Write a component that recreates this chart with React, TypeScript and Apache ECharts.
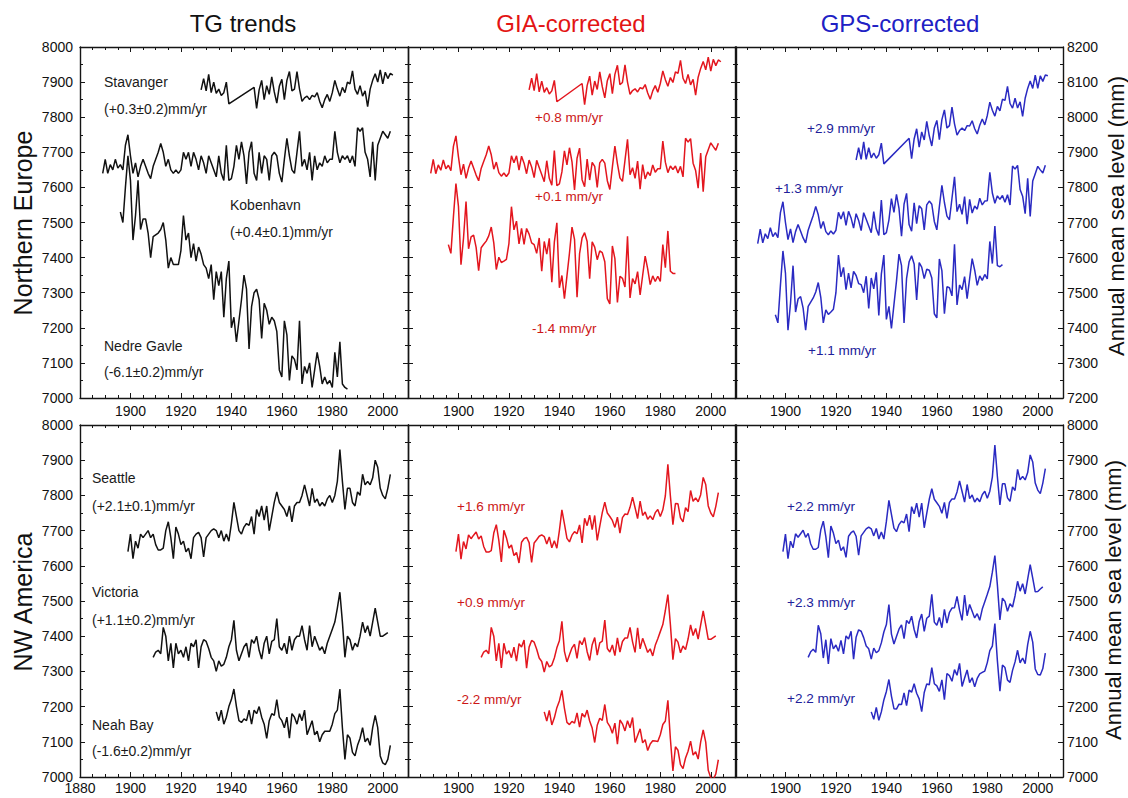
import React, { useEffect, useRef } from "react";
import * as echarts from "echarts";

// ---------- axis / text data ----------
const YEAR_MIN = 1880;
const YEAR_MAX = 2010;
const columnTitles = ["TG trends", "GIA-corrected", "GPS-corrected"];
const rowTitles = ["Northern Europe", "NW America"];
const rightAxisTitle = "Annual mean sea level (mm)";
const yRangeTop = [[7000, 8000], [7000, 8000], [7200, 8200]];
const yRangeBottom = [[7000, 8000], [7000, 8000], [7000, 8000]];

// ---------- Northern Europe ----------
const stavangerYears = [
  1928, 1929, 1930, 1931, 1932, 1933, 1934, 1935, 1936, 1937, 1938, 1939,
  1949, 1950, 1951, 1952, 1953, 1954, 1955, 1956, 1957, 1958, 1959, 1960,
  1961, 1962, 1963, 1964, 1965, 1966, 1967, 1968, 1969, 1970, 1971, 1972,
  1973, 1974, 1975, 1976, 1977, 1978, 1979, 1980, 1981, 1982, 1983, 1984,
  1985, 1986, 1987, 1988, 1989, 1990, 1991, 1992, 1993, 1994, 1995, 1996,
  1997, 1998, 1999, 2000, 2001, 2002, 2003, 2004,
];
const stavangerTG = [
  7878, 7910, 7875, 7922, 7870, 7900, 7868, 7880, 7862, 7870, 7900, 7838,
  7885, 7825, 7878, 7905, 7850, 7890, 7865, 7915, 7872, 7840, 7888, 7908,
  7850, 7905, 7930, 7875, 7880, 7930, 7880, 7845, 7855, 7860, 7850, 7862,
  7858, 7870, 7845, 7827, 7850, 7865, 7845, 7870, 7905, 7880, 7860, 7885,
  7870, 7900, 7895, 7932, 7880, 7865, 7890, 7860, 7875, 7830, 7880, 7905,
  7924, 7900, 7935, 7895, 7928, 7910, 7925, 7920,
];
const stavangerGIA = [
  7878, 7911, 7876, 7924, 7872, 7903, 7871, 7884, 7866, 7875, 7905, 7844,
  7896, 7836, 7890, 7917, 7863, 7903, 7879, 7929, 7887, 7855, 7904, 7924,
  7867, 7922, 7948, 7893, 7899, 7949, 7900, 7865, 7876, 7881, 7872, 7884,
  7881, 7893, 7869, 7851, 7875, 7890, 7871, 7896, 7932, 7907, 7888, 7913,
  7899, 7929, 7925, 7962, 7911, 7896, 7922, 7892, 7908, 7863, 7914, 7939,
  7959, 7935, 7971, 7931, 7965, 7947, 7963, 7958,
];
const stavangerGPS = [
  7878, 7913, 7880, 7930, 7880, 7913, 7884, 7898, 7883, 7893, 7926, 7867,
  7940, 7882, 7938, 7967, 7915, 7958, 7935, 7988, 7947, 7918, 7969, 7991,
  7936, 7993, 8021, 7969, 7976, 8029, 7981, 7949, 7962, 7969, 7962, 7976,
  7975, 7990, 7967, 7952, 7977, 7995, 7978, 8005, 8043, 8020, 8003, 8031,
  8018, 8051, 8048, 8088, 8039, 8026, 8054, 8026, 8044, 8002, 8054, 8082,
  8103, 8082, 8120, 8082, 8118, 8102, 8120, 8118,
];

const kobenhavnFirstYear = 1889;
const kobenhavnTG = [
  7640,
  7680, 7640, 7665, 7650, 7680, 7655, 7665, 7650, 7720, 7750,
  7690, 7640, 7670, 7630, 7660, 7680, 7660, 7640, 7625, 7660,
  7680, 7700, 7725, 7700, 7660, 7680, 7650, 7640, 7650, 7640,
  7650, 7700, 7680, 7700, 7660, 7700, 7680, 7650, 7690, 7670,
  7640, 7690, 7670, 7650, 7630, 7690, 7640, 7620, 7720, 7620,
  7625, 7660, 7720, 7680, 7730, 7690, 7610, 7700, 7730, 7640,
  7620, 7700, 7640, 7690, 7680, 7620, 7690, 7700, 7690, 7640,
  7615, 7680, 7740, 7690, 7650, 7640, 7700, 7760, 7660, 7680,
  7650, 7700, 7620, 7690, 7650, 7670, 7660, 7690, 7670, 7680,
  7680, 7760, 7700, 7670, 7690, 7680, 7690, 7670, 7690, 7660,
  7770, 7760, 7770, 7700, 7680, 7630, 7730, 7620, 7720, 7740,
  7760, 7750, 7740, 7760,
];
const kobenhavnGIA = [
  7640,
  7680, 7639, 7664, 7649, 7678, 7653, 7663, 7648, 7717, 7747,
  7687, 7636, 7666, 7626, 7655, 7675, 7655, 7635, 7619, 7654,
  7674, 7693, 7718, 7693, 7652, 7672, 7642, 7632, 7641, 7631,
  7641, 7690, 7670, 7690, 7649, 7689, 7669, 7639, 7678, 7658,
  7628, 7677, 7657, 7637, 7616, 7676, 7626, 7606, 7705, 7605,
  7610, 7644, 7704, 7664, 7713, 7673, 7593, 7683, 7712, 7622,
  7602, 7681, 7621, 7671, 7660, 7600, 7670, 7680, 7669, 7619,
  7594, 7658, 7718, 7668, 7627, 7617, 7677, 7737, 7636, 7656,
  7626, 7675, 7595, 7665, 7624, 7644, 7634, 7664, 7643, 7653,
  7653, 7732, 7672, 7642, 7661, 7651, 7661, 7641, 7660, 7630,
  7740, 7729, 7739, 7669, 7648, 7598, 7698, 7588, 7687, 7707,
  7727, 7716, 7706, 7726,
];
const kobenhavnGPS = [
  7640,
  7681, 7642, 7668, 7654, 7685, 7660, 7671, 7657, 7728, 7759,
  7700, 7651, 7682, 7643, 7674, 7694, 7675, 7656, 7642, 7678,
  7699, 7720, 7746, 7722, 7683, 7703, 7674, 7665, 7676, 7667,
  7678, 7729, 7710, 7731, 7692, 7732, 7713, 7684, 7725, 7706,
  7677, 7728, 7709, 7690, 7671, 7731, 7682, 7663, 7764, 7665,
  7671, 7707, 7768, 7729, 7780, 7740, 7661, 7752, 7783, 7694,
  7675, 7756, 7697, 7748, 7739, 7679, 7750, 7761, 7752, 7703,
  7679, 7745, 7806, 7757, 7718, 7708, 7769, 7830, 7731, 7752,
  7723, 7774, 7695, 7766, 7727, 7747, 7738, 7769, 7750, 7761,
  7762, 7843, 7784, 7755, 7776, 7766, 7777, 7758, 7779, 7750,
  7861, 7852, 7863, 7794, 7775, 7725, 7826, 7717, 7818, 7839,
  7860, 7850, 7841, 7863,
];

const nedreGavleFirstYear = 1896;
const nedreGavleTG = [
  7530, 7500, 7600, 7690,
  7620, 7450, 7520, 7620, 7480, 7510, 7510, 7470, 7400, 7460,
  7465, 7470, 7480, 7500, 7450, 7370, 7400, 7380, 7380, 7380,
  7420, 7520, 7450, 7470, 7400, 7440, 7390, 7430, 7410, 7380,
  7370, 7340, 7380, 7280, 7360, 7320, 7360, 7230, 7340, 7390,
  7200, 7230, 7160, 7220, 7280, 7350, 7310, 7140, 7260, 7300,
  7310, 7280, 7170, 7270, 7250, 7210, 7230, 7220, 7190, 7080,
  7060, 7220, 7180, 7050, 7120, 7110, 7080, 7220, 7040, 7090,
  7070, 7100, 7030, 7080, 7130, 7090, 7040, 7060, 7040, 7050,
  7030, 7130, 7060, 7160, 7040, 7030, 7025,
];
const nedreGavleGIA = [
  7437, 7412, 7516, 7611,
  7546, 7380, 7455, 7560, 7425, 7459, 7464, 7429, 7363, 7428,
  7438, 7447, 7462, 7487, 7442, 7366, 7401, 7386, 7390, 7395,
  7440, 7545, 7479, 7504, 7439, 7483, 7438, 7483, 7467, 7442,
  7437, 7412, 7456, 7361, 7446, 7410, 7455, 7330, 7444, 7499,
  7314, 7349, 7283, 7348, 7413, 7487, 7452, 7287, 7411, 7456,
  7471, 7446, 7340, 7445, 7430, 7394, 7419, 7414, 7388, 7283,
  7268, 7433, 7397, 7272, 7347, 7341, 7316, 7461, 7285, 7340,
  7325, 7360, 7294, 7349, 7404, 7368, 7323, 7348, 7332, 7347,
  7332, 7437, 7371, 7476, 7361, 7355, 7355,
];
const nedreGavleGPS = [
  7437, 7414, 7521, 7619,
  7556, 7393, 7470, 7577, 7445, 7482, 7489, 7456, 7393, 7461,
  7473, 7485, 7502, 7529, 7487, 7414, 7451, 7438, 7445, 7453,
  7500, 7607, 7545, 7572, 7509, 7556, 7514, 7561, 7549, 7526,
  7523, 7500, 7547, 7455, 7542, 7511, 7558, 7435, 7553, 7607,
  7424, 7461, 7398, 7466, 7533, 7610, 7577, 7414, 7541, 7588,
  7605, 7582, 7479, 7586, 7573, 7540, 7567, 7564, 7542, 7440,
  7428, 7596, 7563, 7440, 7517, 7514, 7491, 7638, 7465, 7522,
  7509, 7546, 7483, 7540, 7597, 7564, 7521, 7548, 7535, 7552,
  7539, 7646, 7583, 7690, 7577, 7574, 7580,
];

// ---------- NW America ----------
const seattleFirstYear = 1899;
const seattleTG = [
  7640,
  7690, 7620, 7670, 7650, 7690, 7680, 7690, 7700, 7680, 7690,
  7660, 7645, 7645, 7650, 7700, 7725, 7680, 7620, 7710, 7690,
  7660, 7670, 7640, 7650, 7620, 7680, 7690, 7695, 7680, 7625,
  7680, 7690, 7700, 7705, 7700, 7680, 7700, 7670, 7690, 7670,
  7720, 7780, 7740, 7700, 7690, 7710, 7720, 7715, 7740, 7690,
  7760, 7740, 7770, 7730, 7770, 7700, 7740, 7780, 7810, 7780,
  7770, 7760, 7740, 7770, 7725, 7770, 7780, 7780, 7800, 7830,
  7800, 7770, 7820, 7780, 7790, 7770, 7780, 7770, 7790, 7800,
  7780, 7800, 7840, 7930, 7840, 7760, 7820, 7820, 7780, 7770,
  7810, 7800, 7860, 7830, 7840, 7830, 7850, 7900, 7880, 7820,
  7800, 7790, 7820, 7860,
];
const seattleGIA = [
  7640,
  7690, 7619, 7669, 7648, 7688, 7677, 7687, 7696, 7676, 7685,
  7655, 7639, 7639, 7643, 7693, 7717, 7672, 7611, 7701, 7680,
  7650, 7659, 7629, 7638, 7608, 7667, 7677, 7681, 7666, 7610,
  7665, 7674, 7684, 7688, 7683, 7662, 7682, 7651, 7671, 7650,
  7700, 7759, 7719, 7678, 7668, 7687, 7697, 7691, 7716, 7665,
  7735, 7714, 7744, 7703, 7743, 7672, 7712, 7751, 7781, 7750,
  7740, 7729, 7709, 7738, 7693, 7737, 7747, 7746, 7766, 7795,
  7765, 7734, 7784, 7743, 7753, 7732, 7742, 7731, 7751, 7760,
  7740, 7759, 7799, 7888, 7798, 7717, 7777, 7776, 7736, 7725,
  7765, 7754, 7814, 7783, 7793, 7782, 7802, 7851, 7831, 7770,
  7750, 7739, 7769, 7808,
];
const seattleGPS = [
  7640,
  7690, 7620, 7670, 7651, 7691, 7681, 7691, 7701, 7681, 7692,
  7662, 7647, 7647, 7652, 7702, 7727, 7683, 7623, 7713, 7693,
  7663, 7673, 7643, 7654, 7624, 7684, 7694, 7699, 7684, 7630,
  7685, 7695, 7705, 7710, 7705, 7685, 7706, 7676, 7696, 7676,
  7726, 7786, 7746, 7707, 7697, 7717, 7727, 7722, 7747, 7697,
  7768, 7748, 7778, 7738, 7778, 7708, 7749, 7789, 7819, 7789,
  7779, 7769, 7749, 7780, 7735, 7780, 7790, 7790, 7810, 7841,
  7811, 7781, 7831, 7791, 7801, 7781, 7792, 7782, 7802, 7812,
  7792, 7812, 7852, 7943, 7853, 7773, 7833, 7833, 7793, 7783,
  7824, 7814, 7874, 7844, 7854, 7844, 7865, 7915, 7895, 7835,
  7815, 7805, 7835, 7876,
];

const victoriaFirstYear = 1909;
const victoriaTG = [
  7340,
  7355, 7360, 7350, 7425, 7400, 7330, 7380, 7310, 7380, 7350,
  7360, 7340, 7370, 7330, 7380, 7370, 7390, 7310, 7370, 7390,
  7385, 7365, 7340, 7330, 7300, 7330, 7315, 7320, 7340, 7370,
  7390, 7445, 7360, 7330, 7350, 7370, 7380, 7340, 7390, 7380,
  7400, 7360, 7335, 7380, 7400, 7350, 7385, 7390, 7450, 7370,
  7360, 7380, 7350, 7400, 7360, 7390, 7400, 7400, 7430, 7390,
  7360, 7430, 7370, 7400, 7380, 7360, 7370, 7350, 7380, 7400,
  7420, 7440, 7480, 7525, 7440, 7340, 7400, 7390, 7360, 7380,
  7370, 7400, 7440, 7410, 7430, 7400, 7440, 7480, 7440, 7400,
  7400, 7405, 7410,
];
const victoriaGIA = [
  7340,
  7355, 7360, 7350, 7425, 7400, 7330, 7380, 7310, 7380, 7349,
  7359, 7339, 7369, 7329, 7379, 7369, 7389, 7309, 7369, 7388,
  7383, 7363, 7338, 7328, 7298, 7328, 7313, 7318, 7338, 7367,
  7387, 7442, 7357, 7327, 7347, 7367, 7377, 7337, 7387, 7376,
  7396, 7356, 7331, 7376, 7396, 7346, 7381, 7386, 7446, 7365,
  7355, 7375, 7345, 7395, 7355, 7385, 7395, 7395, 7425, 7384,
  7354, 7424, 7364, 7394, 7374, 7354, 7364, 7344, 7374, 7393,
  7413, 7433, 7473, 7518, 7433, 7333, 7393, 7383, 7353, 7372,
  7362, 7392, 7432, 7402, 7422, 7392, 7432, 7472, 7432, 7391,
  7391, 7396, 7401,
];
const victoriaGPS = [
  7340,
  7356, 7363, 7354, 7431, 7407, 7338, 7390, 7321, 7393, 7364,
  7375, 7357, 7388, 7350, 7401, 7392, 7414, 7335, 7397, 7418,
  7414, 7396, 7372, 7364, 7335, 7366, 7353, 7359, 7381, 7412,
  7433, 7490, 7406, 7378, 7399, 7420, 7432, 7393, 7445, 7436,
  7457, 7419, 7395, 7442, 7463, 7414, 7451, 7457, 7519, 7440,
  7431, 7453, 7424, 7476, 7437, 7468, 7480, 7481, 7513, 7474,
  7445, 7517, 7458, 7490, 7471, 7452, 7464, 7445, 7477, 7498,
  7519, 7541, 7582, 7629, 7545, 7446, 7508, 7499, 7471, 7492,
  7483, 7515, 7556, 7528, 7549, 7520, 7562, 7603, 7565, 7526,
  7527, 7534, 7540,
];

const neahBayFirstYear = 1934;
const neahBayTG = [
  7185, 7160, 7190, 7150, 7170, 7200,
  7220, 7250, 7200, 7160, 7155, 7165, 7160, 7190, 7150, 7190,
  7180, 7200, 7170, 7150, 7110, 7160, 7180, 7175, 7220, 7170,
  7160, 7140, 7170, 7110, 7180, 7170, 7150, 7180, 7160, 7190,
  7120, 7140, 7160, 7120, 7130, 7100, 7120, 7130, 7130, 7130,
  7150, 7180, 7190, 7250, 7140, 7050, 7120, 7110, 7070, 7060,
  7090, 7110, 7140, 7100, 7110, 7090, 7140, 7175, 7140, 7060,
  7040, 7035, 7050, 7090,
];
const neahBayGIA = [
  7185, 7159, 7189, 7148, 7168, 7197,
  7216, 7246, 7195, 7155, 7149, 7158, 7153, 7182, 7142, 7181,
  7170, 7190, 7159, 7139, 7098, 7147, 7167, 7161, 7206, 7155,
  7144, 7124, 7153, 7093, 7162, 7151, 7131, 7160, 7140, 7169,
  7098, 7118, 7137, 7097, 7106, 7075, 7094, 7103, 7102, 7101,
  7120, 7149, 7159, 7218, 7108, 7017, 7086, 7076, 7035, 7024,
  7054, 7073, 7102, 7062, 7072, 7051, 7100, 7134, 7099, 7019,
  6998, 6993, 7009, 7049,
];
const neahBayGPS = [
  7185, 7164, 7198, 7161, 7185, 7219,
  7243, 7277, 7230, 7194, 7193, 7207, 7206, 7239, 7203, 7247,
  7241, 7265, 7238, 7222, 7186, 7240, 7264, 7262, 7311, 7265,
  7259, 7243, 7276, 7220, 7294, 7288, 7272, 7305, 7289, 7323,
  7257, 7281, 7304, 7268, 7282, 7256, 7280, 7293, 7297, 7301,
  7325, 7359, 7372, 7436, 7330, 7244, 7318, 7311, 7275, 7269,
  7303, 7327, 7360, 7324, 7338, 7322, 7376, 7414, 7383, 7307,
  7291, 7290, 7308, 7352,
];

// ---------- helpers ----------
const consecutive = (first: number, vals: number[]) => vals.map((v, i) => [first + i, v]);
const paired = (years: number[], vals: number[]) => vals.map((v, i) => [years[i], v]);

const FONT = '"Liberation Sans", Arial, Helvetica, sans-serif';
const BLACK = "#111111";
const RED = "#e3161e";
const BLUE = "#2a2ac2";
const RED_TEXT = "#cc1616";
const BLUE_TEXT = "#20209a";
const NOTE_TEXT = "#1a1a1a";
const AXIS_COLOR = "#151515";

function buildOption() {
  const colLeft = [80, 408, 735];
  const colWidth = 328;
  const rowTop = [47, 425];
  const rowHeight = [351, 352];
  const lineColors = [BLACK, RED, BLUE];

  const panelSeries: number[][][][] = [
    [
      paired(stavangerYears, stavangerTG),
      consecutive(kobenhavnFirstYear, kobenhavnTG),
      consecutive(nedreGavleFirstYear, nedreGavleTG),
    ],
    [
      paired(stavangerYears, stavangerGIA),
      consecutive(kobenhavnFirstYear, kobenhavnGIA),
      consecutive(nedreGavleFirstYear, nedreGavleGIA),
    ],
    [
      paired(stavangerYears, stavangerGPS),
      consecutive(kobenhavnFirstYear, kobenhavnGPS),
      consecutive(nedreGavleFirstYear, nedreGavleGPS),
    ],
    [
      consecutive(seattleFirstYear, seattleTG),
      consecutive(victoriaFirstYear, victoriaTG),
      consecutive(neahBayFirstYear, neahBayTG),
    ],
    [
      consecutive(seattleFirstYear, seattleGIA),
      consecutive(victoriaFirstYear, victoriaGIA),
      consecutive(neahBayFirstYear, neahBayGIA),
    ],
    [
      consecutive(seattleFirstYear, seattleGPS),
      consecutive(victoriaFirstYear, victoriaGPS),
      consecutive(neahBayFirstYear, neahBayGPS),
    ],
  ];

  const grid: any[] = [];
  const xAxis: any[] = [];
  const yAxis: any[] = [];
  const series: any[] = [];

  const axisLine = { show: true, onZero: false, lineStyle: { color: AXIS_COLOR, width: 1.4 } };
  const labelStyle = { fontSize: 14, color: "#111", fontFamily: FONT };

  for (let r = 0; r < 2; r++) {
    for (let c = 0; c < 3; c++) {
      const p = r * 3 + c;
      const range = (r === 0 ? yRangeTop : yRangeBottom)[c];
      grid.push({ left: colLeft[c], top: rowTop[r], width: colWidth, height: rowHeight[r] });
      const showFirst = r === 1 && c === 0;
      const xBase = {
        gridIndex: p,
        type: "value",
        min: YEAR_MIN,
        max: YEAR_MAX,
        interval: 20,
        axisLine,
        axisTick: { show: true, inside: true, length: 5, lineStyle: { color: AXIS_COLOR, width: 1 } },
        minorTick: { show: true, splitNumber: 4, length: 3, lineStyle: { color: AXIS_COLOR, width: 1 } },
        splitLine: { show: false },
        minorSplitLine: { show: false },
      };
      xAxis.push({
        ...xBase,
        position: "bottom",
        axisLabel: {
          ...labelStyle,
          show: true,
          margin: r === 0 ? 6 : 4,
          showMinLabel: true,
          showMaxLabel: true,
          formatter: (v: number) =>
            v === YEAR_MAX || (v === YEAR_MIN && !showFirst) ? "" : String(v),
        },
      });
      xAxis.push({ ...xBase, position: "top", axisLabel: { show: false } });
      const yBase = {
        gridIndex: p,
        type: "value",
        min: range[0],
        max: range[1],
        interval: 100,
        axisLine,
        axisTick: { show: true, inside: true, length: 5, lineStyle: { color: AXIS_COLOR, width: 1 } },
        minorTick: { show: true, splitNumber: 2, length: 3, lineStyle: { color: AXIS_COLOR, width: 1 } },
        splitLine: { show: false },
        minorSplitLine: { show: false },
      };
      yAxis.push({
        ...yBase,
        position: "left",
        axisLabel: {
          ...labelStyle,
          show: c === 0,
          margin: 7,
          showMinLabel: true,
          showMaxLabel: true,
          formatter: (v: number) => String(v),
        },
      });
      yAxis.push({
        ...yBase,
        position: "right",
        axisLabel: {
          ...labelStyle,
          show: c === 2,
          margin: 4,
          showMinLabel: true,
          showMaxLabel: true,
          formatter: (v: number) => String(v),
        },
      });
      for (const data of panelSeries[p]) {
        series.push({
          type: "line",
          xAxisIndex: 2 * p,
          yAxisIndex: c === 2 ? 2 * p + 1 : 2 * p,
          data,
          showSymbol: false,
          symbol: "none",
          clip: true,
          lineStyle: { color: lineColors[c], width: 1.5 },
          emphasis: { disabled: true },
        });
      }
    }
  }

  const txt = (text: string, x: number, y: number, fill: string, size: number, extra: any = {}) => ({
    type: "text",
    x,
    y,
    silent: true,
    ...extra,
    style: {
      text,
      fill,
      fontSize: size,
      fontFamily: FONT,
      align: extra.align || "left",
      verticalAlign: "middle",
    },
  });

  const graphic: any[] = [
    txt(columnTitles[0], 243, 23, "#111", 24, { align: "center" }),
    txt(columnTitles[1], 571, 23, "#e31414", 24, { align: "center" }),
    txt(columnTitles[2], 900, 23, "#2020c4", 24, { align: "center" }),
    txt(rowTitles[0], 23, 223, "#111", 25, { align: "center", rotation: Math.PI / 2 }),
    txt(rowTitles[1], 23, 602, "#111", 25, { align: "center", rotation: Math.PI / 2 }),
    txt(rightAxisTitle, 1116, 216, "#111", 22, { align: "center", rotation: Math.PI / 2 }),
    txt(rightAxisTitle, 1113, 600, "#111", 22, { align: "center", rotation: Math.PI / 2 }),
    // top-left
    txt("Stavanger", 104, 82, NOTE_TEXT, 14),
    txt("(+0.3±0.2)mm/yr", 104, 109, NOTE_TEXT, 14),
    txt("Kobenhavn", 230, 205, NOTE_TEXT, 14),
    txt("(+0.4±0.1)mm/yr", 230, 232, NOTE_TEXT, 14),
    txt("Nedre Gavle", 104, 346, NOTE_TEXT, 14),
    txt("(-6.1±0.2)mm/yr", 104, 372, NOTE_TEXT, 14),
    // top-middle
    txt("+0.8 mm/yr", 535, 117, RED_TEXT, 13.5),
    txt("+0.1 mm/yr", 535, 196, RED_TEXT, 13.5),
    txt("-1.4 mm/yr", 532, 328, RED_TEXT, 13.5),
    // top-right
    txt("+2.9 mm/yr", 807, 128, BLUE_TEXT, 13.5),
    txt("+1.3 mm/yr", 775, 188, BLUE_TEXT, 13.5),
    txt("+1.1 mm/yr", 808, 350, BLUE_TEXT, 13.5),
    // bottom-left
    txt("Seattle", 92, 478, NOTE_TEXT, 14),
    txt("(+2.1±0.1)mm/yr", 92, 506, NOTE_TEXT, 14),
    txt("Victoria", 92, 592, NOTE_TEXT, 14),
    txt("(+1.1±0.2)mm/yr", 92, 620, NOTE_TEXT, 14),
    txt("Neah Bay", 92, 725, NOTE_TEXT, 14),
    txt("(-1.6±0.2)mm/yr", 92, 751, NOTE_TEXT, 14),
    // bottom-middle
    txt("+1.6 mm/yr", 457, 506, RED_TEXT, 13.5),
    txt("+0.9 mm/yr", 457, 602, RED_TEXT, 13.5),
    txt("-2.2 mm/yr", 457, 699, RED_TEXT, 13.5),
    // bottom-right
    txt("+2.2 mm/yr", 787, 506, BLUE_TEXT, 13.5),
    txt("+2.3 mm/yr", 787, 602, BLUE_TEXT, 13.5),
    txt("+2.2 mm/yr", 787, 698, BLUE_TEXT, 13.5),
  ];

  return {
    animation: false,
    backgroundColor: "#ffffff",
    textStyle: { fontFamily: FONT },
    grid,
    xAxis,
    yAxis,
    series,
    graphic,
  };
}

export default function App() {
  const ref = useRef<HTMLDivElement>(null);
  useEffect(() => {
    if (!ref.current) return;
    const chart = echarts.init(ref.current, undefined, { renderer: "svg" });
    chart.setOption(buildOption() as any);
    return () => chart.dispose();
  }, []);
  return (
    <div
      ref={ref}
      style={{ position: "fixed", left: 0, top: 0, width: 1128, height: 798, background: "#fff" }}
    />
  );
}
